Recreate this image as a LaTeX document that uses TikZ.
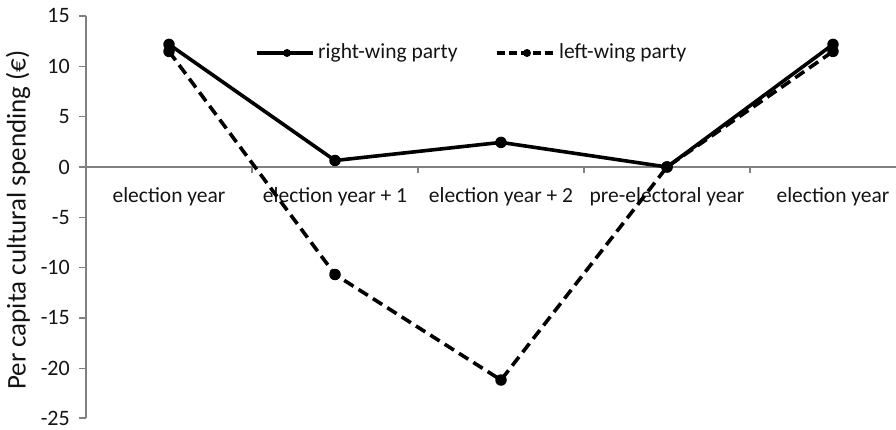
\documentclass[tikz,border=0pt]{standalone}
\usepackage{fontspec}
\setmainfont{Carlito}
\begin{document}
\begin{tikzpicture}[x=1pt,y=-1pt,
  axisline/.style={draw=black!50,line width=1.3pt},
  ticklab/.style={font=\fontsize{22}{24}\selectfont,text=black!92,anchor=east,inner sep=0pt},
  catlab/.style={font=\fontsize{21.5}{24}\selectfont,text=black!92,inner sep=0pt},
  series/.style={line width=3.6pt,black,line join=round},
  dashedseries/.style={series,dash pattern=on 11pt off 6pt},
  dot/.style={circle,fill=black,inner sep=0pt,minimum size=11.5pt},
  legdot/.style={circle,fill=black,inner sep=0pt,minimum size=8pt}]
\useasboundingbox (0,0) rectangle (896,430);
% axes
\coordinate (yt) at (86,16);
\coordinate (yb) at (86,418);
\coordinate (x0) at (86,167);
\coordinate (x1) at (896,167);
\draw[axisline] (yt) -- (yb);
\draw[axisline] (x0) -- (x1);
\foreach \v/\p in {15/16,10/66.3,5/116.7,0/167,-5/217.3,-10/267.6,-15/317.9,-20/368.2,-25/418}{
  \draw[axisline] (79,\p) -- (86,\p);
  \node[ticklab] (t\v) at (70,\p) {\v};
}
\foreach \xx in {252,418,584,750}{
  \draw[axisline] (\xx,167) -- (\xx,173);
}
% category labels
\node[catlab] (c1) at (169,197) {election year};
\node[catlab] (c2) at (335,197) {election year + 1};
\node[catlab] (c3) at (501,197) {election year + 2};
\node[catlab] (c4) at (667,197) {pre-electoral year};
\node[catlab] (c5) at (833,197) {election year};
% y label
\node[font=\fontsize{27}{30}\selectfont,text=black!92,rotate=90,inner sep=0pt] (ylab) at (18,220) {Per capita cultural spending (€)};
% data
\coordinate (r1) at (169,44.4);
\coordinate (r2) at (335,160.5);
\coordinate (r3) at (501,142.4);
\coordinate (r4) at (667,167);
\coordinate (r5) at (833,44.4);
\coordinate (l1) at (169,51.4);
\coordinate (l2) at (335,274.5);
\coordinate (l3) at (501,380);
\coordinate (l4) at (667,167);
\coordinate (l5) at (833,51.4);
\draw[dashedseries] (l1) -- (l2) -- (l3) -- (l4) -- (l5);
\draw[series] (r1) -- (r2) -- (r3) -- (r4) -- (r5);
\foreach \n in {l1,l2,l3,l4,l5,r1,r2,r3,r4,r5}{
  \node[dot] at (\n) {};
}
% legend
\coordinate (lr1) at (257,53);
\coordinate (lr2) at (313,53);
\draw[series] (lr1) -- (lr2);
\node[legdot] (lrd) at (287,53) {};
\node[catlab,anchor=west] (lrt) at (318,53) {right-wing party};
\coordinate (ll1) at (497,53);
\coordinate (ll2) at (556,53);
\draw[series,dash pattern=on 8pt off 4pt] (ll1) -- (ll2);
\node[legdot] (lld) at (527,53) {};
\node[catlab,anchor=west] (llt) at (559,53) {left-wing party};
\end{tikzpicture}
\end{document}
